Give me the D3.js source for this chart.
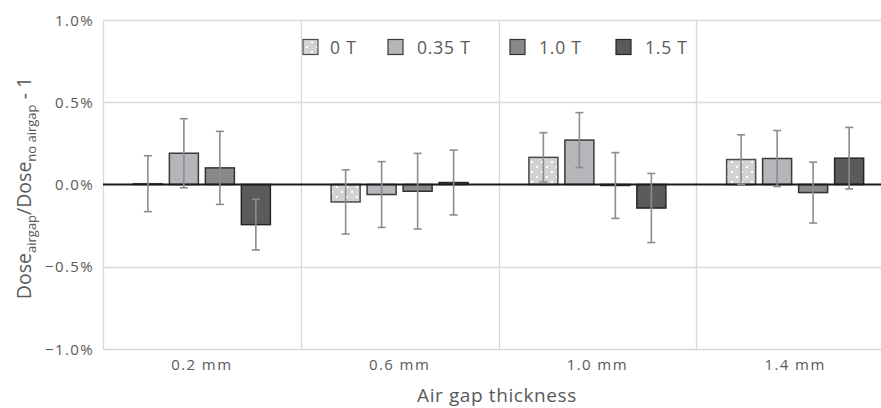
<!DOCTYPE html>
<html>
<head>
<meta charset="utf-8">
<script src="https://cdn.jsdelivr.net/npm/d3@7"></script>
<style>
  body { margin: 0; background: #fff; }
  text { font-family: "Open Sans", sans-serif; fill: #595959; }
</style>
</head>
<body>
<div id="chart"></div>
<script>
const categories = ["0.2 mm", "0.6 mm", "1.0 mm", "1.4 mm"];
const seriesNames = ["0 T", "0.35 T", "1.0 T", "1.5 T"];
// values in % per series, one per category
const values = [
  [0.005, -0.106, 0.165, 0.152],   // 0 T
  [0.19, -0.061, 0.27, 0.158],     // 0.35 T
  [0.101, -0.041, -0.006, -0.049], // 1.0 T
  [-0.244, 0.012, -0.143, 0.16]    // 1.5 T
];
const errors = [
  [0.17, 0.195, 0.15, 0.15],
  [0.21, 0.20, 0.167, 0.17],
  [0.222, 0.23, 0.20, 0.185],
  [0.154, 0.197, 0.21, 0.187]
];
const yTicks = [-1.0, -0.5, 0.0, 0.5, 1.0];

const fills = ["url(#dots)", "#b5b6b9", "#88898b", "#5b5b5c"];
const strokes = ["#4a4a4a", "#3a3a3a", "#333", "#262626"];

const width = 881, height = 408;
const svg = d3.select("#chart").append("svg")
  .attr("width", width).attr("height", height);

// dotted pattern for 0 T
const pat = svg.append("defs").append("pattern")
  .attr("id", "dots").attr("patternUnits", "userSpaceOnUse")
  .attr("width", 10).attr("height", 10);
pat.append("rect").attr("width", 10).attr("height", 10).attr("fill", "#d2d2d3");
pat.append("rect").attr("x", 1).attr("y", 1).attr("width", 2).attr("height", 2).attr("fill", "#fff");
pat.append("rect").attr("x", 6).attr("y", 6).attr("width", 2).attr("height", 2).attr("fill", "#fff");

const x0 = d3.scaleBand().domain(categories).range([103, 894]).padding(0);
const y = d3.scaleLinear().domain([-1, 1]).range([349, 20]);
const groupW = 137;
const x1 = d3.scaleBand().domain(seriesNames)
  .range([0, groupW]).paddingInner(0.194).paddingOuter(0);

// horizontal grid
svg.append("g").selectAll("line").data(yTicks.filter(d => d !== 0)).join("line")
  .attr("x1", 103).attr("x2", width)
  .attr("y1", d => Math.round(y(d)) + 0.5).attr("y2", d => Math.round(y(d)) + 0.5)
  .attr("stroke", "#d9d9d9").attr("stroke-width", 1.3);

// category separators
svg.append("g").selectAll("line").data(categories).join("line")
  .attr("x1", d => Math.round(x0(d)) + 0.5).attr("x2", d => Math.round(x0(d)) + 0.5)
  .attr("y1", y(1)).attr("y2", y(-1))
  .attr("stroke", "#d9d9d9").attr("stroke-width", 1.3);

// y tick labels
svg.append("g").selectAll("text").data(yTicks).join("text")
  .attr("x", 94).attr("y", d => y(d) + 5.5)
  .attr("text-anchor", "end")
  .style("font-size", "15px")
  .style("letter-spacing", "1.4px")
  .text(d => d3.format(".1f")(d) + "%");

// x tick labels
svg.append("g").selectAll("text").data(categories).join("text")
  .attr("x", d => x0(d) + x0.bandwidth() / 2).attr("y", 370)
  .attr("text-anchor", "middle")
  .style("font-size", "15px")
  .style("letter-spacing", "1.4px")
  .text(d => d);

// bars
const rows = [];
seriesNames.forEach((s, si) => {
  categories.forEach((c, ci) => {
    rows.push({ s, si, c, v: values[si][ci], e: errors[si][ci] });
  });
});
const bx = d => x0(d.c) + (x0.bandwidth() - groupW) / 2 + x1(d.s);

svg.append("g").selectAll("rect").data(rows).join("rect")
  .attr("x", bx)
  .attr("y", d => y(Math.max(0, d.v)))
  .attr("width", x1.bandwidth())
  .attr("height", d => Math.abs(y(d.v) - y(0)))
  .attr("fill", d => fills[d.si])
  .attr("stroke", d => strokes[d.si])
  .attr("stroke-width", 1.5);

// zero line
svg.append("line")
  .attr("x1", 103).attr("x2", width)
  .attr("y1", y(0)).attr("y2", y(0))
  .attr("stroke", "#1a1a1a").attr("stroke-width", 2);

// error bars
const eb = svg.append("g").attr("stroke", "#8c8c8c").attr("stroke-width", 1.6);
rows.forEach(d => {
  const cx = bx(d) + x1.bandwidth() / 2;
  eb.append("line").attr("x1", cx).attr("x2", cx)
    .attr("y1", y(d.v + d.e)).attr("y2", y(d.v - d.e));
  [d.v + d.e, d.v - d.e].forEach(t => {
    eb.append("line").attr("x1", cx - 4).attr("x2", cx + 4)
      .attr("y1", y(t)).attr("y2", y(t));
  });
});

// legend
const legendX = [303, 388, 510, 616];
const leg = svg.append("g");
seriesNames.forEach((s, i) => {
  leg.append("rect")
    .attr("x", legendX[i]).attr("y", 39.5)
    .attr("width", 15).attr("height", 15)
    .attr("fill", fills[i]).attr("stroke", strokes[i]).attr("stroke-width", 1.2);
  leg.append("text")
    .attr("x", legendX[i] + (i === 0 ? 27 : 29)).attr("y", 53.5)
    .style("font-size", "17.5px")
    .style("letter-spacing", "0.8px")
    .text(s);
});

// axis titles
svg.append("text")
  .attr("x", 497).attr("y", 402)
  .attr("text-anchor", "middle")
  .style("font-size", "19px")
  .style("letter-spacing", "0.6px")
  .text("Air gap thickness");

const yt = svg.append("text")
  .attr("transform", "translate(31,188) rotate(-90)")
  .attr("text-anchor", "middle")
  .style("font-size", "19.5px");
yt.append("tspan").text("Dose");
yt.append("tspan").attr("dy", 5).style("font-size", "13px").text("airgap");
yt.append("tspan").attr("dy", -5).text("/Dose");
yt.append("tspan").attr("dy", 5).style("font-size", "13px").text("no airgap");
yt.append("tspan").attr("dy", -5).text(" - 1");
</script>
</body>
</html>
